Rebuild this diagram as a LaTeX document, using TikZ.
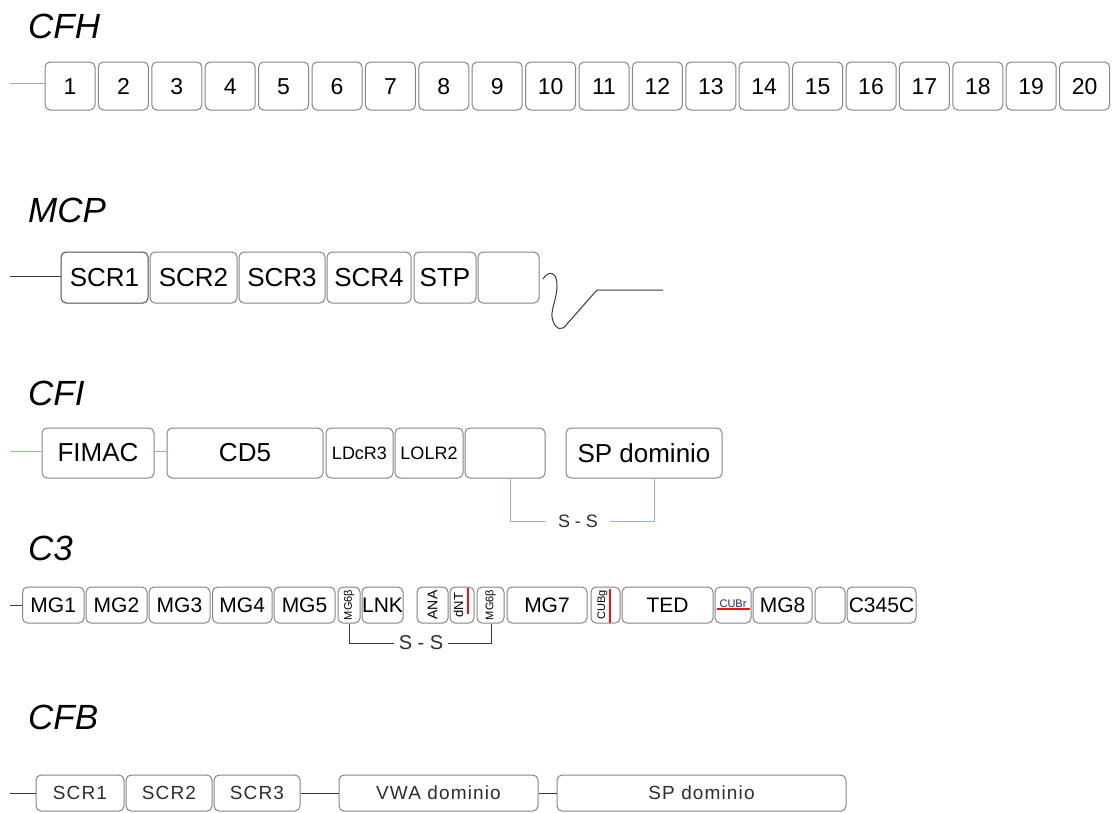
\documentclass[tikz,border=0pt]{standalone}
\usepackage{fontspec}
\setmainfont{Liberation Sans}
\usepackage{graphicx}
\definecolor{boxgray}{HTML}{858585}
\definecolor{linkgray}{HTML}{A6A6A6}
\definecolor{linkblue}{HTML}{95B3D7}
\definecolor{linkdark}{HTML}{3A3A3A}
\definecolor{markred}{HTML}{F01010}
\definecolor{textgray}{HTML}{2E2E2E}

% domain box spanning x1..x2, y1..y2 (pixel-like units, y grows downward)
\newcommand\dombox[7][]{%
  \pgfmathsetmacro\dbCX{(#3+#4)/2}%
  \pgfmathsetmacro\dbCY{(#5+#6)/2}%
  \pgfmathsetmacro\dbW{#4-#3}%
  \pgfmathsetmacro\dbH{#6-#5}%
  \node[dom,minimum width=\dbW pt,minimum height=\dbH pt,#1] (#2) at (\dbCX,\dbCY) {#7};}

\tikzset{
  dom/.style={draw=boxgray, fill=white, rounded corners=5pt, line width=1pt, inner sep=0pt},
  title/.style={anchor=base west, inner sep=0pt, font=\fontsize{35}{35}\selectfont\itshape},
  link/.style={line width=1pt},
  sstext/.style={inner ysep=0pt, text=textgray},
  redmark/.style={draw=markred, line width=1.6pt},
}

\begin{document}
\begin{tikzpicture}[x=1pt,y=-1pt]
\useasboundingbox (0,0) rectangle (1113,812);

% ---------- titles
\node[title] (tCFH) at (28,38) {CFH};
\node[title] (tMCP) at (28,222) {MCP};
\node[title] (tCFI) at (28,405) {CFI};
\node[title] (tC3)  at (28,560) {C3};
\node[title] (tCFB) at (28,729) {CFB};

% ---------- CFH: twenty repeats
\begin{scope}[dom/.append style={font=\fontsize{23}{23}\selectfont, text height=16.5pt, text depth=0pt}]
\foreach \i in {1,...,20}{
  \pgfmathsetmacro\xa{45+53.4*(\i-1)}
  \dombox{h\i}{\xa}{\xa+50}{62}{110}{\i}
}
\end{scope}
\coordinate (hL) at (10,83);
\draw[link,linkgray] (hL) -- (hL -| h1.west);

% ---------- MCP
\begin{scope}[dom/.append style={font=\fontsize{26}{26}\selectfont}]
\dombox[draw=black!70]{m1}{61}{148}{252}{303}{SCR1}
\dombox{m2}{150}{237}{252}{303}{SCR2}
\dombox{m3}{239}{325}{252}{303}{SCR3}
\dombox{m4}{327}{411}{252}{303}{SCR4}
\dombox{m5}{414}{476}{252}{303}{STP}
\dombox{m6}{478}{539}{252}{303}{}
\end{scope}
\coordinate (mL) at (10,276);
\draw[link,linkdark] (mL) -- (mL -| m1.west);
\coordinate (sq0) at (543,279);
\coordinate (sqE) at (663,290);
\draw[link,linkdark] (sq0) .. controls (548,271) and (557,270) .. (557,286)
  .. controls (557,300) and (549,312) .. (553,321)
  .. controls (556,330) and (563,331) .. (567,324)
  -- (597,290) -- (sqE);

% ---------- CFI
\begin{scope}[dom/.append style={font=\fontsize{26}{26}\selectfont}]
\dombox{fimac}{42}{154}{428}{478}{FIMAC}
\dombox{cd5}{167}{323}{428}{478}{CD5}
\dombox[font=\fontsize{18}{18}\selectfont]{ldcr}{326}{393}{428}{478}{LDcR3}
\dombox[font=\fontsize{18}{18}\selectfont]{lolr}{395}{463}{428}{478}{LOLR2}
\dombox{ie}{465}{545}{428}{478}{}
\dombox{isp}{566}{722}{428}{478}{SP dominio}
\end{scope}
\coordinate (iL) at (10,451);
\draw[link,linkblue] (iL) -- (iL -| fimac.west);
\draw[link,linkblue] (fimac.east |- iL) -- (cd5.west |- iL);
\node[sstext, inner xsep=12pt, font=\fontsize{18}{18}\selectfont] (iss) at (578,521) {S - S};
\draw[link,linkblue] ([xshift=5pt]ie.south) |- (iss.west);
\draw[link,linkblue] (iss.east) -| ([xshift=10pt]isp.south);

% ---------- C3
\begin{scope}[dom/.append style={font=\fontsize{21}{21}\selectfont}]
\dombox{mg1}{22.5}{84}{587}{623}{MG1}
\dombox{mg2}{86}{147}{587}{623}{MG2}
\dombox{mg3}{149}{210}{587}{623}{MG3}
\dombox{mg4}{212.5}{272}{587}{623}{MG4}
\dombox{mg5}{274}{335}{587}{623}{MG5}
\dombox[font=\fontsize{11}{11}\selectfont]{mgb1}{338}{360}{587}{623}{\rotatebox{90}{MG6β}}
\dombox{lnk}{362}{403}{587}{623}{LNK}
\dombox[font=\fontsize{14}{14}\selectfont]{ana}{417}{448}{587}{623}{\rotatebox{90}{ANA}}
\dombox[font=\fontsize{13}{13}\selectfont]{dnt}{450}{474}{587}{623}{\rotatebox{90}{dNT}\kern7pt}
\dombox[font=\fontsize{11}{11}\selectfont]{mgb2}{477}{504}{587}{623}{\rotatebox{90}{MG6β}}
\dombox{mg7}{507}{587}{587}{623}{MG7}
\dombox[font=\fontsize{11}{11}\selectfont]{cubg}{591}{620}{587}{623}{\rotatebox{90}{CUBg}\kern6pt}
\dombox{ted}{622}{713}{587}{623}{TED}
\dombox[font=\fontsize{11}{11}\selectfont]{cubr}{715}{751}{587}{623}{\raisebox{2pt}{\textcolor{textgray!80!blue}{CUBr}}}
\dombox{mg8}{753}{812}{587}{623}{MG8}
\dombox{c3e}{815}{845}{587}{623}{}
\dombox{c345}{847}{916}{587}{623}{C345C}
\end{scope}
% red marks inside the small domains
\draw[redmark] (468,588) -- (468,614);
\draw[redmark] (610,589) -- (610,623);
\draw[redmark] (717,609) -- (750,609);
\coordinate (cL) at (10,605);
\draw[link,linkdark] (cL) -- (cL -| mg1.west);
\node[sstext, inner xsep=5pt, font=\fontsize{20}{20}\selectfont] (css) at (421,643) {S - S};
\draw[link,linkdark] (mgb1.south) |- (css.west);
\draw[link,linkdark] (css.east) -| ([xshift=0.5pt]mgb2.south);

% ---------- CFB
\begin{scope}[dom/.append style={font=\fontsize{19}{19}\selectfont\addfontfeature{LetterSpace=6}, text=textgray}]
\dombox{b1}{36}{124}{775}{811}{SCR1}
\dombox{b2}{126}{212}{775}{811}{SCR2}
\dombox{b3}{214}{300}{775}{811}{SCR3}
\dombox{vwa}{339}{538}{775}{811}{VWA dominio}
\dombox{bsp}{557}{846}{775}{811}{SP dominio}
\end{scope}
\coordinate (bL) at (10,793);
\draw[link,linkdark] (bL) -- (bL -| b1.west);
\draw[link,linkdark] (b3.east) -- (vwa.west);
\draw[link,linkdark] (vwa.east) -- (bsp.west);
\end{tikzpicture}
\end{document}
